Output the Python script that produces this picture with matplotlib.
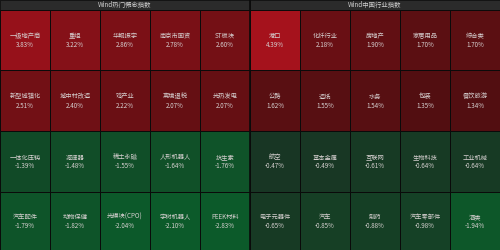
import matplotlib
matplotlib.use("Agg")
import matplotlib.pyplot as plt
from matplotlib.colors import LinearSegmentedColormap, TwoSlopeNorm
from matplotlib.patches import Rectangle
import numpy as np

plt.rcParams['font.family'] = ['Noto Sans CJK SC', 'DejaVu Sans']

# panel titles
titles = ["Wind热门概念指数", "Wind中国行业指数"]

# concept indices, 4 rows x 5 cols
concept_names = [
    ["一级地产商", "重组", "华鲲振宇", "南京市国资", "ST板块"],
    ["新型城镇化", "城中村改造", "鸡产业", "离境退税", "光热发电"],
    ["一体化压铸", "减速器", "稀土永磁", "人形机器人", "抗生素"],
    ["汽车配件", "动物保健", "光模块(CPO)", "宇树机器人", "PEEK材料"],
]
concept_chg = [
    [3.83, 3.22, 2.86, 2.78, 2.60],
    [2.51, 2.40, 2.22, 2.07, 2.07],
    [-1.39, -1.48, -1.55, -1.64, -1.76],
    [-1.79, -1.82, -2.04, -2.10, -2.83],
]

# industry indices
industry_names = [
    ["港口", "化纤行业", "房地产", "家居用品", "综合类"],
    ["公路", "造纸", "水务", "包装", "餐饮旅游"],
    ["航空", "基本金属", "互联网", "生物科技", "工业机械"],
    ["电子元器件", "汽车", "制药", "汽车零部件", "酒类"],
]
industry_chg = [
    [4.39, 2.18, 1.90, 1.70, 1.70],
    [1.62, 1.55, 1.54, 1.35, 1.34],
    [-0.47, -0.49, -0.61, -0.64, -0.64],
    [-0.65, -0.85, -0.88, -0.98, -1.94],
]

cmap = LinearSegmentedColormap.from_list(
    "rg", [(0.0, "#0c5a2a"), (0.5, "#1c2c22"), (0.62, "#4a0e10"), (1.0, "#a8121c")])
norm = TwoSlopeNorm(vmin=-2.1, vcenter=0.0, vmax=4.5)

fig = plt.figure(figsize=(5, 2.5), dpi=100)
fig.patch.set_facecolor("#1e1e1e")
ax = fig.add_axes([0, 0, 1, 1])
ax.set_xlim(0, 500)
ax.set_ylim(250, 0)
ax.axis("off")

head_h = 10
row_edges = [10, 70, 131, 192, 250]
col_w = 50
fs = 4.5
tc = "#d6d0d0"

for p, (names, chg) in enumerate([(concept_names, concept_chg),
                                  (industry_names, industry_chg)]):
    x0 = p * 250
    ax.add_patch(Rectangle((x0, 0), 250, head_h, facecolor="#2b2b2b",
                           edgecolor="#111111", lw=0.6))
    ax.text(x0 + 125, head_h / 2 + 0.3, titles[p], ha="center", va="center",
            fontsize=4.6, color="#cfcfcf")
    for r in range(4):
        y0, y1 = row_edges[r], row_edges[r + 1]
        for c in range(5):
            v = chg[r][c]
            ax.add_patch(Rectangle((x0 + c * col_w, y0), col_w, y1 - y0,
                                   facecolor=cmap(norm(v)), edgecolor="#0a0a0a",
                                   lw=0.7))
            cx = x0 + c * col_w + col_w / 2
            cy = (y0 + y1) / 2
            ax.text(cx, cy - 4, names[r][c], ha="center", va="center",
                    fontsize=fs, color=tc)
            ax.text(cx, cy + 5, "%.2f%%" % v, ha="center", va="center",
                    fontsize=fs, color=tc)

ax.plot([250, 250], [0, 250], color="#0a0a0a", lw=1.2)

fig.savefig("out.png", dpi=100, facecolor=fig.get_facecolor())
